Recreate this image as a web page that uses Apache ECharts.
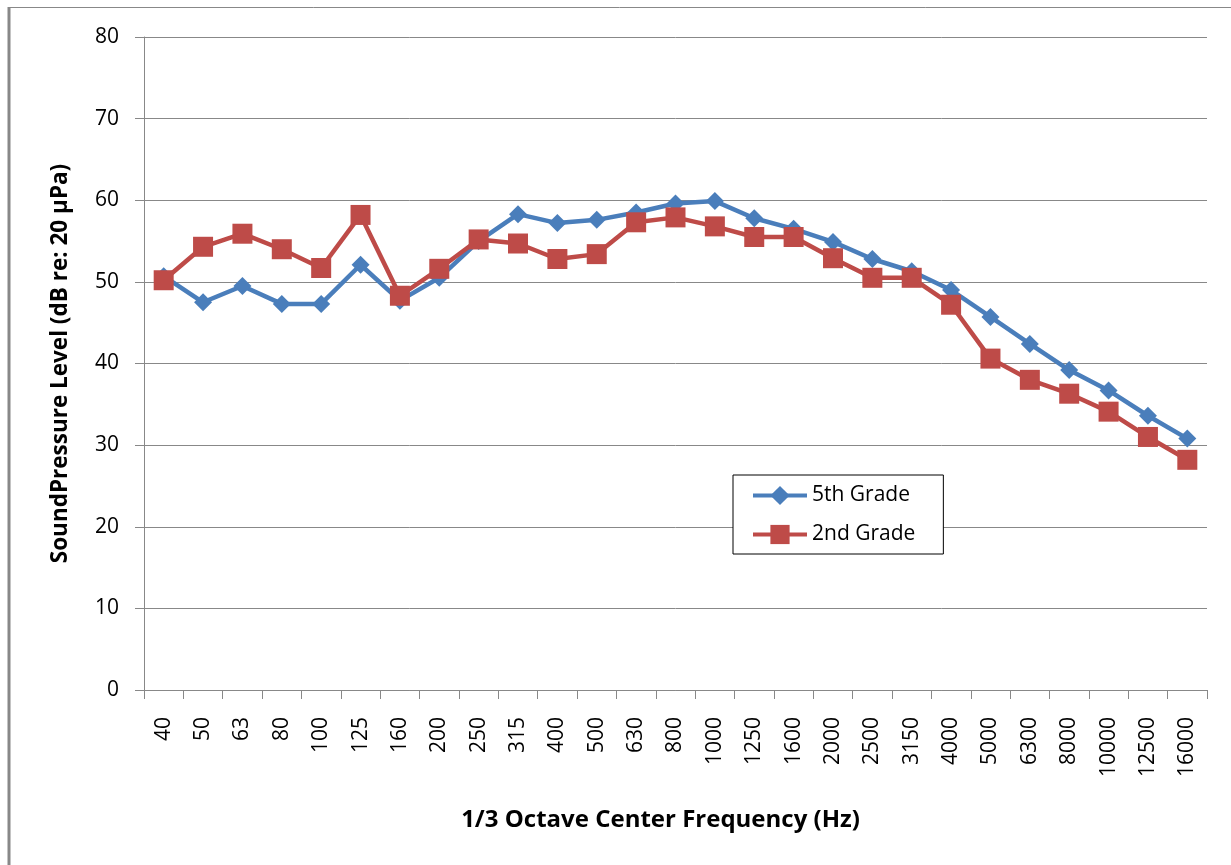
<!DOCTYPE html>
<html><head><meta charset="utf-8">
<script src="https://cdn.jsdelivr.net/npm/echarts@6/dist/echarts.min.js"></script>
<style>html,body{margin:0;padding:0;background:#fff}#c{width:1231px;height:865px}</style>
</head><body><div id="c"></div>
<script>
var categories = ['40','50','63','80','100','125','160','200','250','315','400','500','630','800','1000','1250','1600','2000','2500','3150','4000','5000','6300','8000','10000','12500','16000'];
var grade5 = [50.7,47.5,49.5,47.3,47.3,52.1,47.7,50.5,55.0,58.3,57.2,57.6,58.5,59.6,59.9,57.8,56.5,54.9,52.8,51.3,49.0,45.7,42.4,39.2,36.7,33.6,30.8];
var grade2 = [50.2,54.3,55.9,54.0,51.7,58.2,48.3,51.6,55.2,54.7,52.8,53.4,57.3,57.9,56.8,55.5,55.5,52.9,50.5,50.5,47.2,40.6,38.0,36.3,34.1,31.0,28.2];
var yTicks = {min:0, max:80, interval:10};

var chart = echarts.init(document.getElementById('c'), null, {renderer:'canvas'});
var font = '"Open Sans", "Noto Sans", sans-serif';
chart.setOption({
  animation:false,
  backgroundColor:'#fff',
  graphic:[
    {type:'line', shape:{x1:8,y1:7.5,x2:1231,y2:7.5}, style:{stroke:'#888',lineWidth:1}},
    {type:'line', shape:{x1:9,y1:7,x2:9,y2:865}, style:{stroke:'#888',lineWidth:3}}
  ],
  grid:{left:144, right:24, top:37, bottom:175, containLabel:false},
  legend:{
    left:733, top:475, width:210, orient:'vertical', itemGap:18,
    padding:[10,28,9,18], borderColor:'#000', borderWidth:1, backgroundColor:'#fff',
    itemWidth:54, itemHeight:24,
    textStyle:{fontFamily:font, fontSize:21, color:'#000', padding:[0,0,0,0]},
    data:[{name:'5th Grade', lineStyle:{width:4}},{name:'2nd Grade', lineStyle:{width:4}}]
  },
  xAxis:{
    type:'category', data:categories, boundaryGap:true,
    name:'1/3 Octave Center Frequency (Hz)', nameLocation:'middle', nameGap:118,
    nameTextStyle:{fontFamily:font, fontSize:24, fontWeight:'bold', color:'#000', padding:[0,30,0,0]},
    axisLine:{lineStyle:{color:'#888', width:1}},
    axisTick:{show:true, length:9, lineStyle:{color:'#888'}, alignWithLabel:false},
    axisLabel:{rotate:90, margin:27, interval:0, fontFamily:font, fontSize:21, color:'#000'}
  },
  yAxis:{
    type:'value', min:yTicks.min, max:yTicks.max, interval:yTicks.interval,
    name:'SoundPressure Level (dB re: 20 μPa)', nameLocation:'middle', nameGap:72, nameRotate:90,
    nameTextStyle:{fontFamily:font, fontSize:22.5, fontWeight:'bold', color:'#000'},
    axisLine:{show:true, lineStyle:{color:'#888', width:1}},
    axisTick:{show:true, inside:false, length:9, lineStyle:{color:'#888'}},
    axisLabel:{margin:25, fontFamily:font, fontSize:21, color:'#000'},
    splitLine:{show:true, lineStyle:{color:'#888', width:1}}
  },
  series:[
    {name:'5th Grade', type:'line', data:grade5, symbol:'diamond', symbolSize:18,
     lineStyle:{color:'#4A7EBB', width:4.5}, itemStyle:{color:'#4A7EBB'}, z:2},
    {name:'2nd Grade', type:'line', data:grade2, symbol:'rect', symbolSize:20,
     lineStyle:{color:'#BE4B48', width:4.5}, itemStyle:{color:'#BE4B48'}, z:3}
  ]
});
</script></body></html>
